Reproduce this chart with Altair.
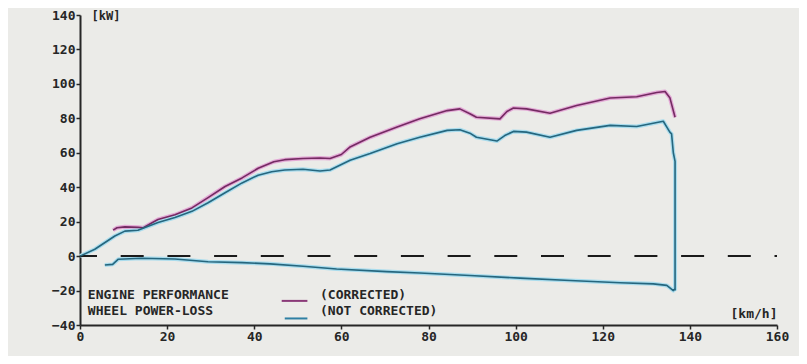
import altair as alt
import pandas as pd

# --- data ---
corr_x = [7.6, 8.5, 10.3, 13.3, 14.5, 17.9, 21.8, 25.7, 29.4, 33.3, 37.2, 40.9, 44.5, 47.0,
          51.2, 55.1, 57.4, 60.0, 62.0, 66.6, 72.8, 78.0, 84.3, 87.2, 89.5, 91.0, 96.4, 98.0,
          99.5, 102.5, 107.9, 114.0, 121.7, 127.8, 132.4, 134.3, 135.4, 136.6]
corr_y = [15.1, 16.5, 17.0, 16.7, 16.5, 21.3, 24.0, 28.0, 34.0, 40.4, 45.4, 51.0, 54.8, 56.0,
          56.7, 57.0, 56.7, 59.0, 63.4, 69.0, 75.0, 79.7, 84.5, 85.5, 82.7, 80.6, 79.7, 84.0,
          86.0, 85.5, 83.0, 87.4, 91.8, 92.5, 95.0, 95.6, 92.0, 80.6]

nc_x = [0.0, 3.4, 8.0, 10.3, 13.3, 17.9, 21.8, 25.7, 29.4, 33.3, 37.2, 40.9, 44.0, 47.0,
        51.2, 55.1, 57.4, 62.0, 66.6, 72.8, 78.0, 84.3, 87.2, 89.5, 91.0, 95.7, 97.5, 99.5,
        102.5, 107.9, 114.0, 121.7, 127.8, 133.9, 135.4, 135.8, 136.2, 136.6, 136.6]
nc_y = [0.0, 4.0, 11.7, 14.5, 15.0, 19.5, 22.4, 26.0, 31.0, 36.8, 42.5, 47.0, 49.0, 50.0,
        50.4, 49.4, 50.0, 55.7, 59.6, 65.3, 69.0, 73.0, 73.4, 71.4, 69.0, 66.8, 70.0, 72.4,
        72.0, 69.0, 73.0, 75.9, 75.3, 78.3, 72.0, 71.0, 60.0, 55.0, -20.0]

loss_x = [5.7, 7.5, 8.8, 14.0, 21.8, 29.4, 37.2, 43.6, 51.2, 58.9, 70.4, 78.0, 89.5, 101.0,
          112.5, 124.0, 131.6, 134.7, 136.2, 136.6]
loss_y = [-5.2, -4.8, -1.8, -1.2, -1.7, -3.3, -3.8, -4.5, -5.9, -7.5, -9.0, -9.8, -11.3, -12.8,
          -14.2, -15.5, -16.1, -17.0, -20.0, -19.0]

x_ticks = [0, 20, 40, 60, 80, 100, 120, 140, 160]
y_ticks = [-40, -20, 0, 20, 40, 60, 80, 100, 120, 140]

legend_labels = ["ENGINE PERFORMANCE", "WHEEL POWER-LOSS", "(CORRECTED)", "(NOT CORRECTED)"]
legend_lx = [1.8, 1.8, 55.1, 55.1]
legend_ly = [-22.5, -32.0, -22.5, -32.0]
swatch_x = [46.3, 47.0]
swatch_x2 = [52.2, 52.2]
swatch_y = [-26.0, -36.2]
swatch_col = ["#8a3a78", "#2f80a4"]

PURPLE_CORE, PURPLE_HALO = "#742a62", "#e3a9d6"
BLUE_CORE, BLUE_HALO = "#25667e", "#a9dced"
INK = "#262626"
FONT = "DejaVu Sans Mono"

corr = pd.DataFrame({"x": corr_x, "y": corr_y, "i": range(len(corr_x))})
nc = pd.DataFrame({"x": nc_x, "y": nc_y, "i": range(len(nc_x))})
loss = pd.DataFrame({"x": loss_x, "y": loss_y, "i": range(len(loss_x))})

xs = alt.Scale(domain=[0, 160], nice=False, zero=False)
ys = alt.Scale(domain=[-40, 140], nice=False, zero=False)

x_axis = alt.Axis(values=x_ticks, grid=False, domainColor=INK, domainWidth=2, tickColor=INK,
                  tickWidth=1.5, tickSize=4, labelFont=FONT, labelFontSize=13,
                  labelFontWeight="bold", labelColor=INK, labelPadding=1, labelFlush=False,
                  title="[km/h]", titleFont=FONT, titleFontSize=13, titleFontWeight="bold",
                  titleColor=INK, titleAngle=0, titleAlign="left", titleBaseline="middle",
                  titleX=650, titleY=-12)
y_axis = alt.Axis(values=y_ticks, grid=False, domainColor=INK, domainWidth=2, tickColor=INK,
                  tickWidth=1.5, tickSize=4, labelFont=FONT, labelFontSize=13,
                  labelFontWeight="bold", labelColor=INK, labelPadding=1, labelFlush=False,
                  title="[kW]", titleFont=FONT, titleFontSize=12, titleFontWeight="bold",
                  titleColor=INK, titleAngle=0, titleAlign="left", titleBaseline="middle",
                  titleX=11, titleY=0)

X = lambda f="x": alt.X(f"{f}:Q", scale=xs, axis=x_axis)
Y = lambda f="y": alt.Y(f"{f}:Q", scale=ys, axis=y_axis)


def line(df, color, width):
    return alt.Chart(df).mark_line(color=color, strokeWidth=width, strokeJoin="round").encode(
        x=X(), y=Y(), order="i:Q",
    )


zero_df = pd.DataFrame({"x": [0], "x2": [160], "y": [0]})
zero_line = alt.Chart(zero_df).mark_rule(color="#1a1a1a", strokeWidth=2,
                                         strokeDash=[23, 23.7], strokeDashOffset=6).encode(
    x=X(), x2="x2:Q", y=Y())

sw_df = pd.DataFrame({"x": swatch_x, "x2": swatch_x2, "y": swatch_y, "c": swatch_col})
swatches = alt.Chart(sw_df).mark_rule(strokeWidth=2).encode(
    x=X(), x2="x2:Q", y=Y(), color=alt.Color("c:N", scale=None))

lab_df = pd.DataFrame({"x": legend_lx, "y": legend_ly, "t": legend_labels})
labels = alt.Chart(lab_df).mark_text(align="left", baseline="middle", font=FONT, fontSize=13,
                                     fontWeight="bold", color=INK).encode(
    x=X(), y=Y(), text="t:N")

chart = alt.layer(
    line(corr, PURPLE_HALO, 4),
    line(nc, BLUE_HALO, 4),
    line(loss, BLUE_HALO, 4),
    zero_line,
    line(corr, PURPLE_CORE, 1.6),
    line(nc, BLUE_CORE, 1.6),
    line(loss, BLUE_CORE, 1.6),
    swatches,
    labels,
).properties(
    width=697, height=310,
    autosize=alt.AutoSizeParams(type="none"),
    padding={"left": 72, "top": 7, "right": 22, "bottom": 31},
    background="#ebebe8",
).configure_view(stroke=None)

chart.save("out.html", embed_options={"renderer": "svg", "actions": False})
